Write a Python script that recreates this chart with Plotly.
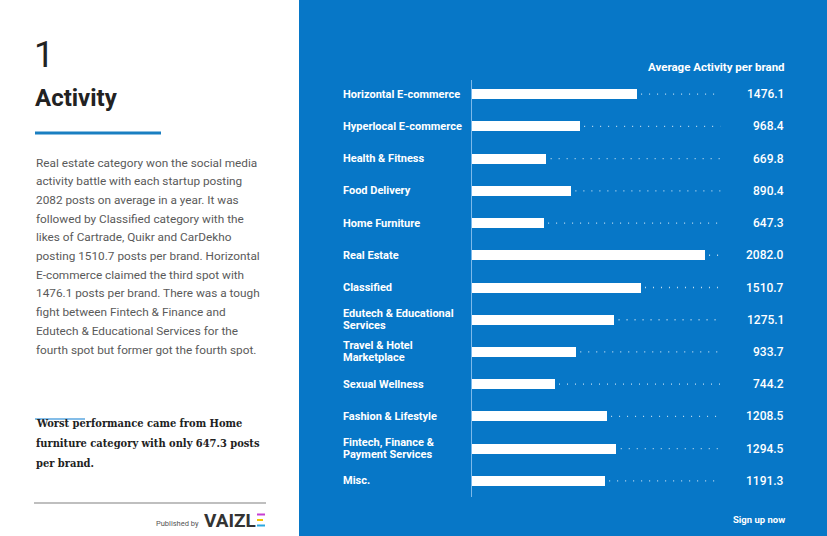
import plotly.graph_objects as go

W, H = 827, 536

categories = [
    "Horizontal E-commerce", "Hyperlocal E-commerce", "Health & Fitness",
    "Food Delivery", "Home Furniture", "Real Estate", "Classified",
    "Edutech & Educational Services", "Travel & Hotel Marketplace",
    "Sexual Wellness", "Fashion & Lifestyle",
    "Fintech, Finance & Payment Services", "Misc.",
]
category_labels = [
    ["Horizontal E-commerce"], ["Hyperlocal E-commerce"], ["Health & Fitness"],
    ["Food Delivery"], ["Home Furniture"], ["Real Estate"], ["Classified"],
    ["Edutech & Educational", "Services"], ["Travel & Hotel", "Marketplace"],
    ["Sexual Wellness"], ["Fashion & Lifestyle"],
    ["Fintech, Finance &", "Payment Services"], ["Misc."],
]
values = [1476.1, 968.4, 669.8, 890.4, 647.3, 2082.0, 1510.7,
          1275.1, 933.7, 744.2, 1208.5, 1294.5, 1191.3]

chart_title = "Average Activity per brand"
section_number = "1"
section_title = "Activity"
body_lines = [
    "Real estate category won the social media",
    "activity battle with each startup posting",
    "2082 posts on average in a year. It was",
    "followed by Classified category with the",
    "likes of Cartrade, Quikr and CarDekho",
    "posting 1510.7 posts per brand. Horizontal",
    "E-commerce claimed the third spot with",
    "1476.1 posts per brand. There was a tough",
    "fight between Fintech & Finance and",
    "Edutech & Educational Services for the",
    "fourth spot but former got the fourth spot.",
]
bold_lines = [
    "Worst performance came from Home",
    "furniture category with only 647.3 posts",
    "per brand.",
]

BLUE = "#0777c7"
X_MAX = 3173          # axis range so that 1 unit ~ 0.1125 px
LEADER_END = 2222     # where dotted leaders stop (data units)


def px(x):
    return x / W


def py(y):
    return 1 - y / H


fig = go.Figure()

fig.add_trace(go.Bar(
    x=values, y=categories, orientation="h",
    marker=dict(color="white", line=dict(width=0)),
    width=0.31, hoverinfo="x+y",
))

lx, ly = [], []
for c, v in zip(categories, values):
    lx += [v + 40, LEADER_END, None]
    ly += [c, c, None]
fig.add_trace(go.Scatter(
    x=lx, y=ly, mode="lines",
    line=dict(color="rgba(255,255,255,0.75)", width=1.3, dash="1px,7px"),
    hoverinfo="skip",
))

ann = []
for c, lab, v in zip(categories, category_labels, values):
    n = len(lab)
    for i, line in enumerate(lab):
        shift = (((n - 1) / 2) - i) * 12
        ann.append(dict(x=px(341), xref="paper", y=c, yref="y", text=line,
                        xanchor="left", yanchor="middle", showarrow=False,
                        yshift=shift,
                        font=dict(family="Roboto", size=11, color="white", weight="bold")))
    ann.append(dict(x=px(786), xref="paper", y=c, yref="y", text=f"{v:.1f}",
                    xanchor="right", yanchor="middle", showarrow=False,
                    font=dict(family="Roboto", size=12, color="white", weight=500)))

ann.append(dict(x=px(787), y=py(67), xref="paper", yref="paper", text=chart_title,
                xanchor="right", yanchor="middle", showarrow=False,
                font=dict(family="Roboto", size=11.5, color="white", weight="bold")))
ann.append(dict(x=px(787), y=py(519), xref="paper", yref="paper", text="Sign up now",
                xanchor="right", yanchor="middle", showarrow=False,
                font=dict(family="Roboto", size=9.5, color="white", weight="bold")))

ann.append(dict(x=px(32), y=py(55), xref="paper", yref="paper", text=section_number,
                xanchor="left", yanchor="middle", showarrow=False,
                font=dict(family="Roboto", size=36, color="#222222")))
ann.append(dict(x=px(33), y=py(98), xref="paper", yref="paper", text=section_title,
                xanchor="left", yanchor="middle", showarrow=False,
                font=dict(family="Roboto", size=24, color="#222222", weight="bold")))
for i, line in enumerate(body_lines):
    ann.append(dict(x=px(34), y=py(162.5 + i * 18.7), xref="paper", yref="paper",
                    text=line, xanchor="left", yanchor="middle", showarrow=False,
                    font=dict(family="Roboto", size=11.8, color="#5a5a5a")))
for i, line in enumerate(bold_lines):
    ann.append(dict(x=px(34), y=py(423 + i * 20), xref="paper", yref="paper",
                    text=line, xanchor="left", yanchor="middle", showarrow=False,
                    font=dict(family="DejaVu Serif Condensed", size=11,
                              color="#222222", weight="bold")))
ann.append(dict(x=px(201), y=py(523), xref="paper", yref="paper", text="Published by",
                xanchor="right", yanchor="middle", showarrow=False,
                font=dict(family="Roboto", size=7.5, color="#555555")))
ann.append(dict(x=px(202), y=py(520.5), xref="paper", yref="paper", text="VAIZL",
                xanchor="left", yanchor="middle", showarrow=False,
                font=dict(family="Roboto", size=19, color="#333333", weight="bold")))

shapes = [
    dict(type="rect", xref="paper", yref="paper", x0=px(299), x1=1, y0=0, y1=1,
         fillcolor=BLUE, line=dict(width=0), layer="below"),
    dict(type="line", xref="paper", yref="paper", x0=px(35), x1=px(161),
         y0=py(133), y1=py(133), line=dict(color="#1a7fc1", width=3)),
    dict(type="line", xref="paper", yref="paper", x0=px(35), x1=px(85),
         y0=py(419), y1=py(419), line=dict(color="#84bde8", width=2)),
    dict(type="line", xref="paper", yref="paper", x0=px(34), x1=px(266),
         y0=py(503), y1=py(503), line=dict(color="#aaaaaa", width=1.5)),
    dict(type="line", xref="x", yref="paper", x0=0, x1=0,
         y0=py(497), y1=py(80), line=dict(color="#7cb9ea", width=2)),
]
for yy, col, x1 in [(514.5, "#c83fd2", 265), (520, "#f2c200", 263), (525.5, "#2aa8e0", 265)]:
    shapes.append(dict(type="line", xref="paper", yref="paper", x0=px(257), x1=px(x1),
                       y0=py(yy), y1=py(yy), line=dict(color=col, width=2)))

fig.update_layout(
    width=W, height=H, margin=dict(l=0, r=0, t=0, b=0),
    paper_bgcolor="white", plot_bgcolor="rgba(0,0,0,0)",
    showlegend=False, bargap=0,
    xaxis=dict(domain=[px(471), 1], range=[0, X_MAX], visible=False, fixedrange=True),
    yaxis=dict(domain=[py(497), py(78)], range=[12.5, -0.5], type="category",
               categoryorder="array", categoryarray=categories,
               visible=False, fixedrange=True),
    annotations=ann, shapes=shapes,
)

fig.write_html(
    "out.html",
    config={"displayModeBar": False},
    post_script="document.body.style.margin='0';document.body.style.overflow='hidden';",
)
